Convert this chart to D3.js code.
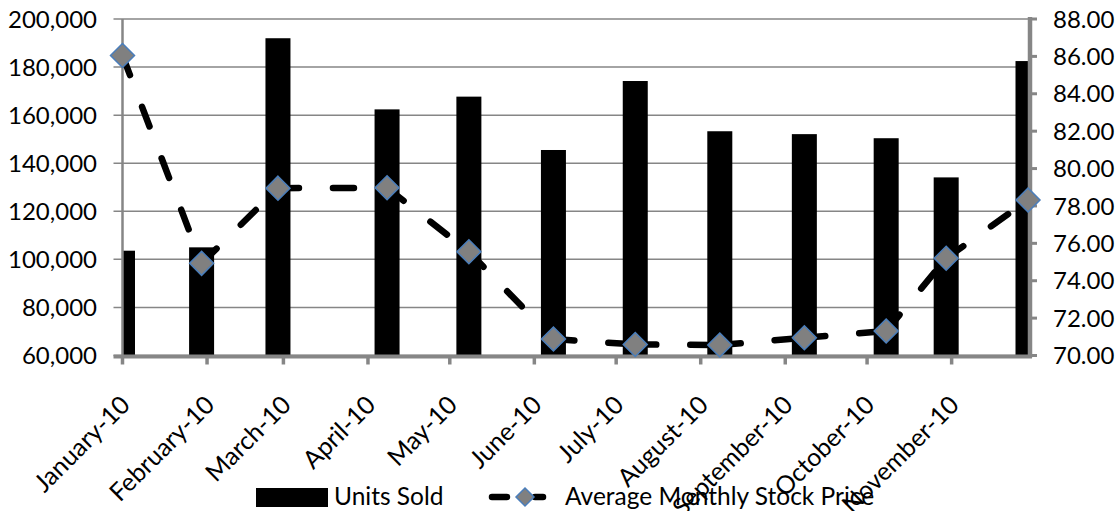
<!DOCTYPE html>
<html>
<head>
<meta charset="utf-8">
<script src="https://cdn.jsdelivr.net/npm/d3@7"></script>
<style>
  html, body { margin: 0; padding: 0; background: #ffffff; }
  svg { display: block; }
  text { font-family: "Lato", "Open Sans", "Liberation Sans", sans-serif; fill: #000; }
</style>
</head>
<body>
<svg id="chart" width="1119" height="511"></svg>
<script>
// ---- data ----
const dates = ["2010-01-01","2010-01-30","2010-02-27","2010-04-08","2010-05-08","2010-06-08",
               "2010-07-08","2010-08-08","2010-09-08","2010-10-08","2010-10-30","2010-11-29"];
const unitsSold = [103600, 105000, 192000, 162400, 167700, 145500, 174200, 153300, 152100, 150400, 134100, 182500];
const stockPrice = [86.05, 74.93, 78.95, 78.97, 75.55, 70.88, 70.59, 70.56, 70.95, 71.31, 75.2, 78.32];
const xTickLabels = ["January-10","February-10","March-10","April-10","May-10","June-10",
                     "July-10","August-10","September-10","October-10","November-10"];
const leftTicks = [60000, 80000, 100000, 120000, 140000, 160000, 180000, 200000];
const rightTicks = [70, 72, 74, 76, 78, 80, 82, 84, 86, 88];
const seriesNames = ["Units Sold", "Average Monthly Stock Price"];

(function () {
// ---- layout ----
const svg = d3.select("#chart");
const pLeft = 122.5, pRight = 1028, pTop = 19, pBottom = 355.5;
const fsAxis = "24px", fsCat = "25px", fsLeg = "24.5px";
const parse = d3.utcParse("%Y-%m-%d");
const xDates = dates.map(parse);

const x = d3.scaleUtc().domain([xDates[0], xDates[xDates.length - 1]]).range([pLeft, pRight]);
const yL = d3.scaleLinear().domain([60000, 200000]).range([pBottom, pTop]);
const yR = d3.scaleLinear().domain([70, 88]).range([pBottom, pTop]);

const gray = "#868686";

svg.append("rect").attr("width", 1119).attr("height", 511).attr("fill", "#fff");

// clip for bars
svg.append("defs").append("clipPath").attr("id", "plotclip")
  .append("rect").attr("x", pLeft).attr("y", pTop - 2).attr("width", pRight - pLeft).attr("height", pBottom - pTop + 2);

// gridlines (with left tick stubs)
svg.append("g").selectAll("line").data(leftTicks).join("line")
  .attr("x1", pLeft - 9).attr("x2", pRight)
  .attr("y1", d => yL(d)).attr("y2", d => yL(d))
  .attr("stroke", gray).attr("stroke-width", 1.5);

// left axis labels
const fmt = d3.format(",");
svg.append("g").selectAll("text").data(leftTicks).join("text")
  .attr("x", 97).attr("y", d => yL(d)).attr("dy", "0.36em")
  .attr("text-anchor", "end").style("font-size", fsAxis)
  .text(d => fmt(d));

// bars
const barW = 25;
svg.append("g").attr("clip-path", "url(#plotclip)")
  .selectAll("rect").data(unitsSold).join("rect")
  .attr("x", (d, i) => x(xDates[i]) - barW / 2)
  .attr("width", barW)
  .attr("y", d => yL(d))
  .attr("height", d => pBottom - yL(d))
  .attr("fill", "#000");

// left axis line
svg.append("line").attr("x1", pLeft).attr("x2", pLeft).attr("y1", pTop).attr("y2", pBottom)
  .attr("stroke", gray).attr("stroke-width", 2.5);

// right axis line + ticks
svg.append("line").attr("x1", pRight + 2).attr("x2", pRight + 2).attr("y1", pTop - 2).attr("y2", pBottom + 2)
  .attr("stroke", gray).attr("stroke-width", 4.5);
svg.append("g").selectAll("line").data(rightTicks).join("line")
  .attr("x1", pRight + 2).attr("x2", pRight + 9)
  .attr("y1", d => yR(d)).attr("y2", d => yR(d))
  .attr("stroke", gray).attr("stroke-width", 3);
svg.append("g").selectAll("text").data(rightTicks).join("text")
  .attr("x", 1053).attr("y", d => yR(d)).attr("dy", "0.36em")
  .attr("text-anchor", "start").style("font-size", fsAxis)
  .text(d => d3.format(".2f")(d));

// bottom axis line + ticks
const monthTicks = d3.utcMonth.range(xDates[0], xDates[xDates.length - 1]);
svg.append("line").attr("x1", pLeft - 9).attr("x2", pRight + 4).attr("y1", pBottom + 1).attr("y2", pBottom + 1)
  .attr("stroke", gray).attr("stroke-width", 4);
svg.append("g").selectAll("line").data(monthTicks).join("line")
  .attr("x1", d => x(d)).attr("x2", d => x(d))
  .attr("y1", pBottom + 2).attr("y2", pBottom + 9)
  .attr("stroke", gray).attr("stroke-width", 3.5);
svg.append("g").selectAll("text").data(monthTicks).join("text")
  .attr("transform", d => `translate(${x(d) + 9},${pBottom + 51}) rotate(-45)`)
  .attr("text-anchor", "end").style("font-size", fsCat)
  .text((d, i) => xTickLabels[i]);

// line series: drawn segment by segment (dash pattern restarts at each point)
const pts = stockPrice.map((v, i) => [x(xDates[i]), yR(v)]);
const segs = d3.pairs(pts);
svg.append("g").selectAll("line").data(segs).join("line")
  .attr("x1", d => d[0][0]).attr("y1", d => d[0][1])
  .attr("x2", d => d[1][0]).attr("y2", d => d[1][1])
  .attr("stroke", "#000").attr("stroke-width", 6.5)
  .attr("stroke-linecap", "round").attr("stroke-dasharray", "21,34");

// markers
const diamond = (cx, cy, r) => `M${cx},${cy - r}L${cx + r},${cy}L${cx},${cy + r}L${cx - r},${cy}Z`;
svg.append("g").selectAll("path").data(pts).join("path")
  .attr("d", d => diamond(d[0], d[1], 12))
  .attr("fill", "#808080").attr("stroke", "#4a7ebb").attr("stroke-width", 1.5);

// legend
const lg = svg.append("g");
lg.append("rect").attr("x", 256).attr("y", 488).attr("width", 72).attr("height", 19).attr("fill", "#000");
lg.append("text").attr("x", 334).attr("y", 505).style("font-size", fsLeg).text(seriesNames[0]);
lg.append("line").attr("x1", 492).attr("x2", 507).attr("y1", 497).attr("y2", 497)
  .attr("stroke", "#000").attr("stroke-width", 6.5).attr("stroke-linecap", "round");
lg.append("line").attr("x1", 535).attr("x2", 543).attr("y1", 497).attr("y2", 497)
  .attr("stroke", "#000").attr("stroke-width", 6.5).attr("stroke-linecap", "round");
lg.append("path").attr("d", diamond(525, 497, 9))
  .attr("fill", "#808080").attr("stroke", "#4a7ebb").attr("stroke-width", 1.5);
lg.append("text").attr("x", 565).attr("y", 505).style("font-size", fsLeg).text(seriesNames[1]);
})();
</script>
</body>
</html>
